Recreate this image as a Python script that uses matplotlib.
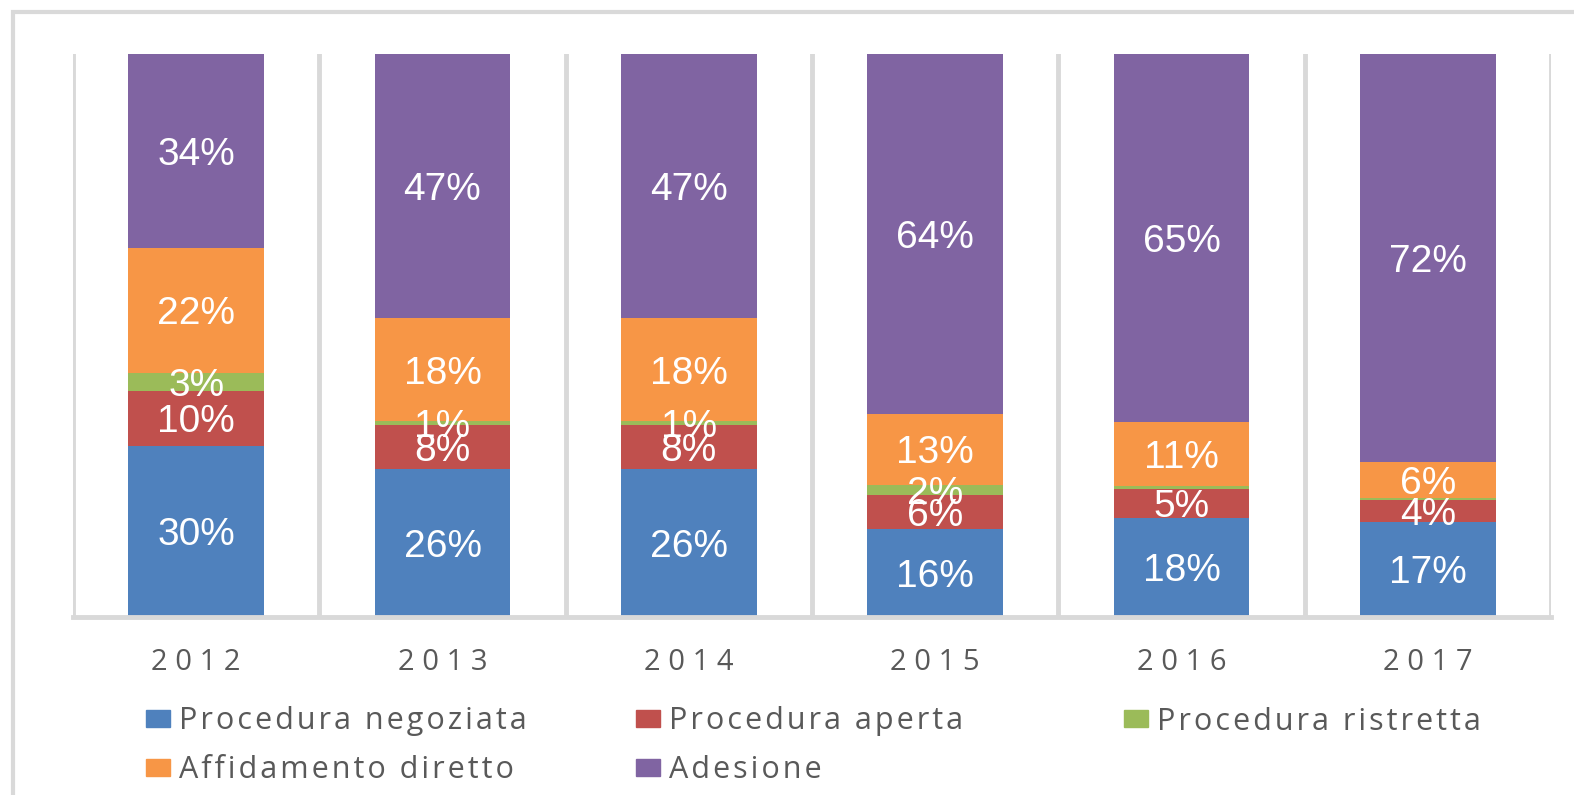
import matplotlib
matplotlib.use('Agg')
import matplotlib.pyplot as plt
from matplotlib.patches import Rectangle
import numpy as np

# Data (percent of total per year)
years = ['2012', '2013', '2014', '2015', '2016', '2017']
negoziata = [30.4, 26.3, 26.3, 15.6, 17.6, 16.9]
aperta = [9.8, 7.8, 7.8, 6.1, 5.2, 3.8]
ristretta = [3.2, 0.7, 0.7, 1.8, 0.5, 0.5]
affidamento = [22.2, 18.3, 18.3, 12.6, 11.3, 6.4]
adesione = [34.4, 46.9, 46.9, 63.9, 65.4, 72.4]

series_names = ['Procedura negoziata', 'Procedura aperta', 'Procedura ristretta',
                'Affidamento diretto', 'Adesione']
series = [negoziata, aperta, ristretta, affidamento, adesione]
colors = ['#4F81BD', '#C0504D', '#9BBB59', '#F79646', '#8064A2']

W, H = 1574, 795
grid_col = '#D9D9D9'
text_col = '#595959'
label_font = ['Open Sans', 'DejaVu Sans']


def spaced(s, gap='\u200a'):
    # mimic the wide letter spacing of the original
    return gap.join(s)


fig = plt.figure(figsize=(W / 100, H / 100), dpi=100)
ax = fig.add_axes([73 / W, 1 - 617 / H, (1551 - 73) / W, (617 - 54) / H])

x = np.arange(len(years))
bottom = np.zeros(len(years))
for vals, col in zip(series, colors):
    vals = np.array(vals)
    ax.bar(x, vals, bottom=bottom, width=0.552, color=col, zorder=2)
    for xi, b, v in zip(x, bottom, vals):
        if v < 0.6:
            continue
        ax.text(xi, b + v / 2, f'{round(v)}%', ha='center', va='center_baseline',
                color='white', fontsize=28, family='Liberation Sans', zorder=4)
    bottom += vals

# vertical separators between categories and bottom axis line
ax.vlines(np.arange(-0.5, len(years)), 0, 100.2, color=grid_col, lw=3.5, zorder=1)
ax.axhline(0, color=grid_col, lw=3.5, zorder=3, clip_on=False)

ax.set_xlim(-0.5, len(years) - 0.5)
ax.set_ylim(0, 100)
ax.set_yticks([])
ax.set_xticks(x)
ax.set_xticklabels([spaced(y, ' ') for y in years], color=text_col, fontsize=21,
                   family=label_font)
ax.tick_params(axis='x', length=0, pad=22)
for s in ax.spines.values():
    s.set_visible(False)

# chart frame (only top/left edges visible in the original)
fig.add_artist(Rectangle((12.5 / W, -0.2), 1.5, 1.2 - 11.5 / H, transform=fig.transFigure,
                         fill=False, edgecolor=grid_col, lw=3))

# legend, laid out like the original (3 equal columns, 2 rows)
col_x = [146, 636, 1124]
row_y = [718.5, 767]
for i, (name, col) in enumerate(zip(series_names, colors)):
    cx = col_x[i % 3]
    cy = row_y[i // 3]
    fig.add_artist(Rectangle((cx / W, 1 - (cy + 8.5) / H), 24 / W, 17 / H,
                             transform=fig.transFigure, color=col))
    fig.text((cx + 33) / W, 1 - (cy + 3) / H, spaced(name), color=text_col, fontsize=22,
             family=label_font, ha='left', va='center')

fig.savefig('out.png', dpi=100)
